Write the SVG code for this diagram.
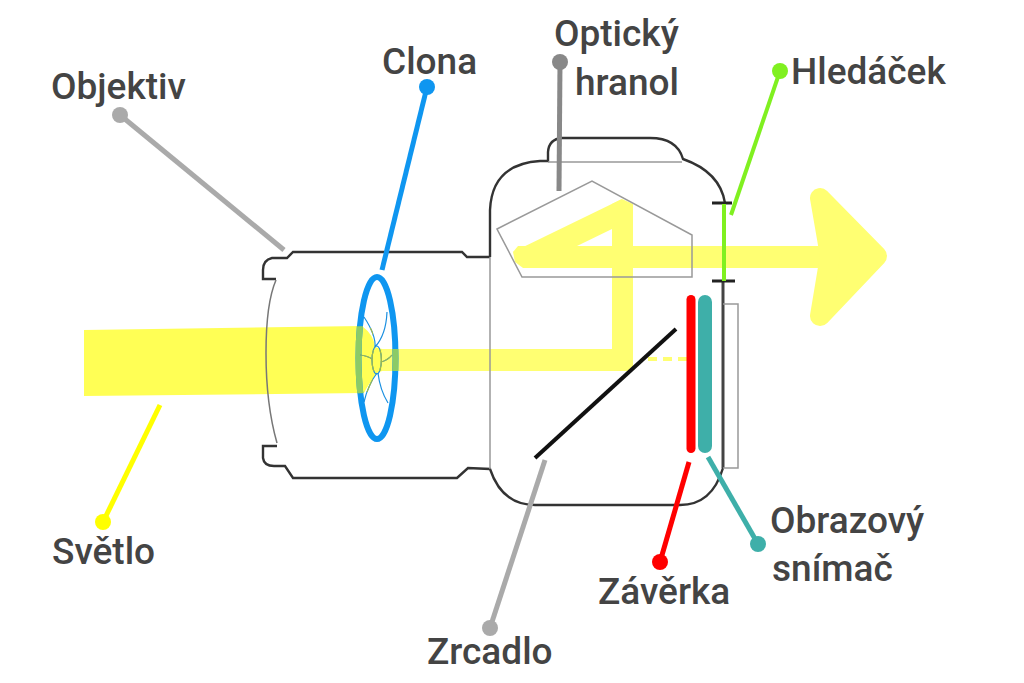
<svg xmlns="http://www.w3.org/2000/svg" width="1024" height="683" viewBox="0 0 1024 683">
<style>
text{font-family:Roboto,"Liberation Sans",sans-serif;font-size:37px;font-weight:500;fill:#444}
.body{fill:none;stroke:#333;stroke-width:2.4}
.thin{fill:none;stroke:#999;stroke-width:1.5}
.lead{fill:none;stroke-width:5}
.blade{fill:none;stroke:#1a8fe0;stroke-width:1.2}
.blade2{fill:none;stroke:#9fb84a;stroke-width:1.2}
.beam{fill:#ffff72}
</style>
<defs>
<clipPath id="beamclip"><polygon points="340,327 366,326 366,393 340,394"/><rect x="385" y="349" width="20" height="22"/></clipPath>
<clipPath id="bladeclip"><rect x="355" y="328" width="18" height="64"/><rect x="373" y="350" width="25" height="21"/></clipPath>
</defs>
<rect width="1024" height="683" fill="#fff"/>
<g id="light-beam">
<path d="M84,330L362,326Q374,335 375,347L382,349V371L377,373Q368,385 364,393L84,396Z" fill="#ffff55"/>
<polygon class="beam" points="382,349 633,349 633,366 628,371 382,371"/>
<polygon class="beam" points="612,349 612,204 622,199 633,204 633,349"/>
<polygon class="beam" points="513,252 622,199 612,229 577,246"/>
<polygon class="beam" points="513,252 518,246 825,246 825,268 523,268 515,262"/>
<polygon class="beam" stroke="#ffff72" stroke-width="20" stroke-linejoin="round" points="820,198 877,256 820,316 830,256"/>
<path d="M648,359H687" stroke="#ffff72" stroke-width="4" stroke-dasharray="9 6" fill="none"/>
</g>
<g id="camera-body">
<path class="body" d="M490,257H467L462,252H293L287,258H272Q263,260 263,270V279H276"/>
<path d="M276,280C263,310 262,390 277,443" fill="none" stroke="#777" stroke-width="1.500"/>
<path class="body" d="M277,446H263V458Q264,466 274,466H285L293,478H457L468,468L490,469Q502,505 535,505H680Q712,505 723,468"/>
<path d="M723,468V281" fill="none" stroke="#444" stroke-width="3"/>
<path class="body" d="M490,257V210Q492,164 540,161H548V152Q549,139 562,138H650Q677,138 683,159Q720,172 725,203"/>
<path class="thin" d="M490,257V469"/>
<path class="thin" d="M548,162H682"/>
<path class="thin" d="M723,304H738V468H723"/>
<path d="M712,203H732M712,281H735" stroke="#222" stroke-width="3" fill="none"/>
</g>
<g id="prism"><polygon class="thin" points="497,229 592,181 692,235 692,277 522,277"/></g>
<g id="aperture">
<ellipse cx="377" cy="358" rx="18.500" ry="81" fill="none" stroke="#0f96f0" stroke-width="6"/>
<ellipse cx="377" cy="358" rx="18.500" ry="81" fill="none" stroke="#8ccb66" stroke-width="6" clip-path="url(#beamclip)"/>
<ellipse class="blade" cx="376.700" cy="360" rx="4.700" ry="14"/>
<path class="blade" d="M364,317Q376,335 375,347M387,312Q386,335 375,347M360,355Q368,356 372,359M392,355Q388,360 381,362M364,402Q368,385 377,373M388,403Q380,390 378,373"/>
<g clip-path="url(#bladeclip)"><ellipse class="blade2" cx="376.700" cy="360" rx="4.700" ry="14"/>
<path class="blade2" d="M364,317Q376,335 375,347M360,355Q368,356 372,359M392,355Q388,360 381,362M364,402Q368,385 377,373"/></g>
</g>
<g id="mirror"><path d="M535,458L676,329" stroke="#111" stroke-width="4" fill="none"/></g>
<g id="shutter"><path d="M691,299.500V448.500" stroke="#f00" stroke-width="9" stroke-linecap="round" fill="none"/></g>
<g id="sensor"><path d="M705,302V446" stroke="#3eafa9" stroke-width="14" stroke-linecap="round" fill="none"/></g>
<g id="connectors">
<path class="lead" stroke="#aaa" d="M120,115L284,250"/>
<path class="lead" stroke="#0f96f0" d="M427,87L382,270"/>
<path class="lead" stroke="#888" d="M560,62L559,191"/>
<path class="lead" stroke="#80f020" style="stroke-width:4" d="M780,71L731,215"/>
<path class="lead" stroke="#80f020" style="stroke-width:4" d="M724,204V281"/>
<path class="lead" stroke="#ffff00" d="M103,522L160,405"/>
<path class="lead" stroke="#aaa" d="M490,628L545,460"/>
<path class="lead" stroke="#f00" d="M660,562L689,462"/>
<path class="lead" stroke="#3eafa9" d="M758,544L708,457"/>
</g>
<g id="label-objektiv"><circle cx="120" cy="115" r="8" fill="#aaa"/><text x="51" y="99">Objektiv</text></g>
<g id="label-clona"><circle cx="427" cy="87" r="8" fill="#0f96f0"/><text x="382" y="74">Clona</text></g>
<g id="label-hranol"><circle cx="560" cy="62" r="8" fill="#888"/><text x="554" y="46">Optický</text><text x="575" y="95">hranol</text></g>
<g id="label-hledacek"><circle cx="780" cy="71" r="8" fill="#80f020"/><text x="791" y="84">Hledáček</text></g>
<g id="label-svetlo"><circle cx="103" cy="522" r="8" fill="#ffff00"/><text x="52" y="564">Světlo</text></g>
<g id="label-zrcadlo"><circle cx="490" cy="628" r="8" fill="#aaa"/><text x="427" y="664">Zrcadlo</text></g>
<g id="label-zaverka"><circle cx="660" cy="562" r="8" fill="#f00"/><text x="598" y="604">Závěrka</text></g>
<g id="label-snimac"><circle cx="758" cy="544" r="8" fill="#3eafa9"/><text x="770" y="533">Obrazový</text><text x="772" y="581">snímač</text></g>
</svg>
